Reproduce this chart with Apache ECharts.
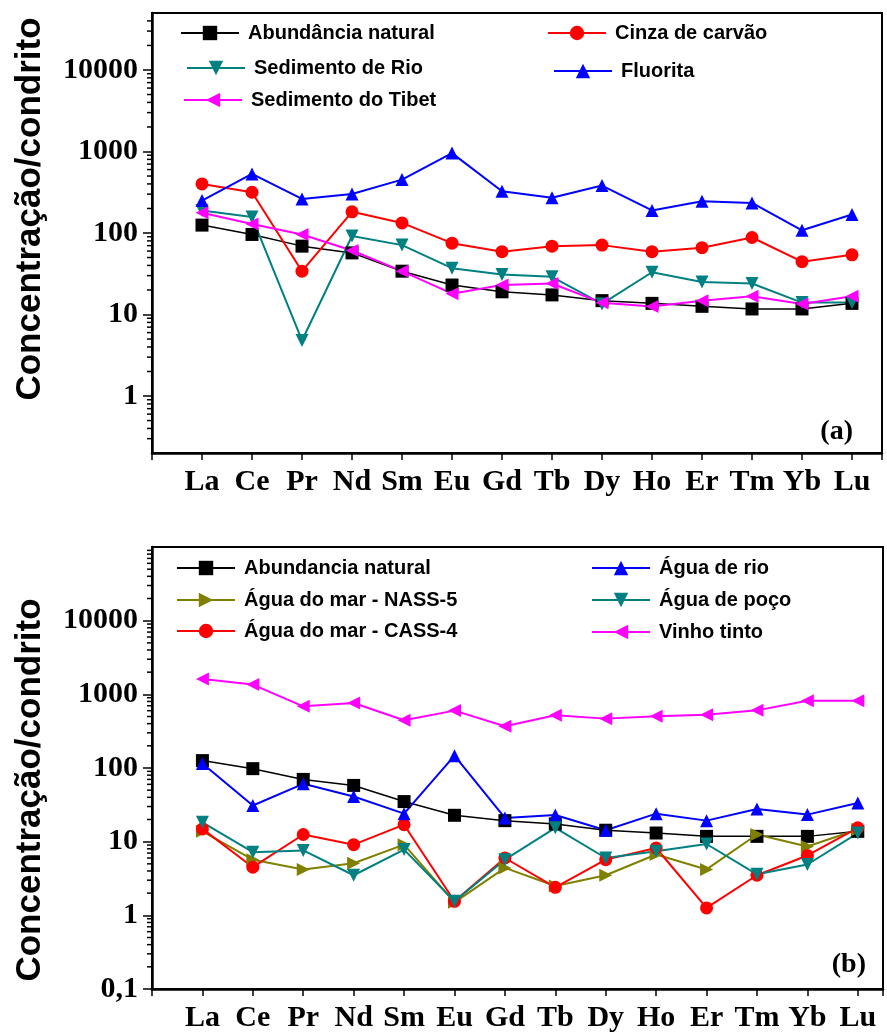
<!DOCTYPE html>
<html>
<head>
<meta charset="utf-8">
<script src="https://cdn.jsdelivr.net/npm/echarts@6/dist/echarts.min.js"></script>
<style>
html, body { margin: 0; padding: 0; background: #fff; }
#chart { width: 887px; height: 1035px; }
</style>
</head>
<body>
<div id="chart"></div>
<script>
var elements = ['La', 'Ce', 'Pr', 'Nd', 'Sm', 'Eu', 'Gd', 'Tb', 'Dy', 'Ho', 'Er', 'Tm', 'Yb', 'Lu'];

// painel (a)
var abundanciaA = [125, 96, 69, 57, 34, 23, 19, 17.4, 14.8, 13.7, 12.6, 11.7, 11.7, 13.7];
var cinzaCarvao = [400, 316, 34, 182, 133, 75, 59, 69, 71, 59, 66, 88, 44.5, 54];
var sedimentoRio = [189, 157, 4.8, 92, 71, 37, 31, 29, 13.5, 33, 25, 24, 14, 14];
var fluorita = [250, 530, 262, 301, 452, 955, 325, 270, 382, 189, 245, 234, 108, 169];
var sedimentoTibet = [177, 129, 96, 61, 34, 18, 23, 24, 13.9, 12.5, 14.8, 16.7, 13.5, 16.7];

// painel (b)
var abundanciaB = [126, 98, 70, 58, 35, 22.8, 19.3, 17.4, 14.3, 13.1, 11.8, 11.8, 11.8, 13.8];
var aguaRio = [115, 31, 61, 41, 24, 147, 21, 23, 14.3, 24, 19.3, 27.8, 23.3, 33.5];
var nass5 = [13.8, 5.7, 4.2, 5.1, 9.1, 1.5, 4.4, 2.5, 3.5, 6.7, 4.2, 12.5, 8.6, 14.6];
var aguaPoco = [18.3, 7.2, 7.6, 3.5, 7.8, 1.55, 5.7, 15.4, 6.0, 7.4, 9.3, 3.6, 4.9, 13.1];
var cass4 = [14.9, 4.5, 12.5, 9.1, 17, 1.55, 6.0, 2.4, 5.7, 8.2, 1.26, 3.5, 6.5, 15.4];
var vinhoTinto = [1618, 1355, 687, 764, 444, 601, 368, 519, 468, 503, 530, 606, 821, 821];

// marcas menores do eixo log
var mantissas = [2, 3, 4, 5, 6, 7, 8, 9];
var decades = [0.1, 1, 10, 100, 1000, 10000];

var yRange = [[0.2, 50000], [0.1, 100000]];
var xMax = [13.6, 13.5];

var serif = 'Liberation Serif';
var sans = 'Liberation Sans';

function lineSeries(name, values, color, symbol, rotate, idx, width) {
    return {
        type: 'line',
        name: name,
        xAxisIndex: idx,
        yAxisIndex: idx,
        data: values.map(function (v, i) { return [i, v]; }),
        symbol: symbol,
        symbolRotate: rotate,
        symbolSize: 13,
        lineStyle: { color: color, width: width || 2 },
        itemStyle: { color: color },
        emphasis: { disabled: true }
    };
}

function minorTicks(idx) {
    var pts = [];
    decades.forEach(function (d) {
        mantissas.forEach(function (m) {
            var v = m * d;
            if (v > yRange[idx][0] && v < yRange[idx][1]) pts.push([-1, v]);
        });
    });
    return {
        type: 'custom',
        xAxisIndex: idx,
        yAxisIndex: idx,
        silent: true,
        clip: false,
        z: 10,
        data: pts,
        renderItem: function (params, api) {
            var p = api.coord([api.value(0), api.value(1)]);
            return {
                type: 'line',
                shape: { x1: p[0] - 5, y1: p[1], x2: p[0], y2: p[1] },
                style: { stroke: '#000', lineWidth: 1.5 }
            };
        }
    };
}

function legendItem(name, left, cy) {
    return {
        data: [name],
        left: left,
        top: cy - 10,
        padding: 0,
        itemWidth: 58,
        itemHeight: 18,
        selectedMode: false,
        textStyle: { fontFamily: sans, fontWeight: 'bold', fontSize: 20, color: '#000', padding: [0, 0, 0, 4] }
    };
}

function xAxis(idx) {
    return {
        type: 'value',
        gridIndex: idx,
        min: -1,
        max: xMax[idx],
        interval: 1,
        splitLine: { show: false },
        axisLine: { onZero: false, lineStyle: { color: '#000', width: 2.5 } },
        axisTick: { inside: false, length: 7, lineStyle: { color: '#000', width: 1.5 } },
        axisLabel: {
            margin: 14,
            fontFamily: serif, fontWeight: 'bold', fontSize: 30, color: '#000',
            formatter: function (v) { return elements[v] || ''; }
        }
    };
}

function yAxis(idx) {
    return {
        type: 'log',
        logBase: 10,
        gridIndex: idx,
        min: yRange[idx][0],
        max: yRange[idx][1],
        splitLine: { show: false },
        axisLine: { onZero: false, lineStyle: { color: '#000', width: 2.5 } },
        axisTick: { inside: false, length: 9, lineStyle: { color: '#000', width: 1.5 } },
        axisLabel: {
            margin: 14,
            showMinLabel: idx === 1,
            showMaxLabel: false,
            fontFamily: serif, fontWeight: 'bold', fontSize: 30, color: '#000',
            formatter: function (v) { return String(v).replace('.', ','); }
        }
    };
}

var chart = echarts.init(document.getElementById('chart'));
chart.setOption({
    animation: false,
    backgroundColor: '#fff',
    grid: [
        { left: 152, right: 5, top: 13, bottom: 582, show: true, borderColor: '#000', borderWidth: 2 },
        { left: 152, right: 4, top: 547, bottom: 46, show: true, borderColor: '#000', borderWidth: 2 }
    ],
    xAxis: [xAxis(0), xAxis(1)],
    yAxis: [yAxis(0), yAxis(1)],
    legend: [
        legendItem('Abundância natural', 180, 33),
        legendItem('Cinza de carvão', 547, 33),
        legendItem('Sedimento de Rio', 186, 68),
        legendItem('Fluorita', 553, 71),
        legendItem('Sedimento do Tibet', 183, 100),
        legendItem('Abundancia natural', 176, 568),
        legendItem('Água do mar - NASS-5', 176, 600),
        legendItem('Água do mar - CASS-4', 176, 631),
        legendItem('Água de rio', 591, 568),
        legendItem('Água de poço', 591, 600),
        legendItem('Vinho tinto', 591, 632)
    ],
    graphic: [
        { type: 'text', x: 30, y: 209, rotation: Math.PI / 2,
          style: { text: 'Concentração/condrito', fill: '#000', font: 'bold 35px "Liberation Sans"', align: 'center', verticalAlign: 'middle' } },
        { type: 'text', x: 30, y: 790, rotation: Math.PI / 2,
          style: { text: 'Concentração/condrito', fill: '#000', font: 'bold 35px "Liberation Sans"', align: 'center', verticalAlign: 'middle' } },
        { type: 'text', x: 853, y: 432,
          style: { text: '(a)', fill: '#000', font: 'bold 28px "Liberation Serif"', align: 'right', verticalAlign: 'middle' } },
        { type: 'text', x: 866, y: 965,
          style: { text: '(b)', fill: '#000', font: 'bold 28px "Liberation Serif"', align: 'right', verticalAlign: 'middle' } }
    ],
    series: [
        lineSeries('Abundância natural', abundanciaA, '#000000', 'rect', 0, 0, 1.5),
        lineSeries('Cinza de carvão', cinzaCarvao, '#ff0000', 'circle', 0, 0),
        lineSeries('Sedimento de Rio', sedimentoRio, '#008080', 'triangle', 180, 0),
        lineSeries('Fluorita', fluorita, '#0000ff', 'triangle', 0, 0),
        lineSeries('Sedimento do Tibet', sedimentoTibet, '#ff00ff', 'triangle', 90, 0),
        lineSeries('Abundancia natural', abundanciaB, '#000000', 'rect', 0, 1, 1.5),
        lineSeries('Água do mar - NASS-5', nass5, '#808000', 'triangle', -90, 1),
        lineSeries('Água do mar - CASS-4', cass4, '#ff0000', 'circle', 0, 1),
        lineSeries('Água de rio', aguaRio, '#0000ff', 'triangle', 0, 1),
        lineSeries('Água de poço', aguaPoco, '#008080', 'triangle', 180, 1),
        lineSeries('Vinho tinto', vinhoTinto, '#ff00ff', 'triangle', 90, 1),
        minorTicks(0),
        minorTicks(1)
    ]
});
</script>
</body>
</html>
